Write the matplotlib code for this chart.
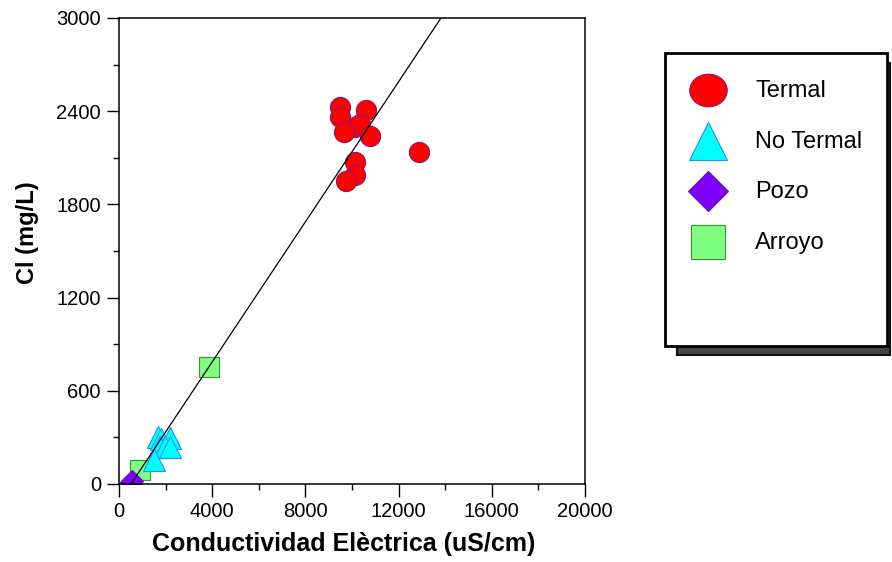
import matplotlib
matplotlib.use("Agg")
from matplotlib import pyplot as plt
from matplotlib.patches import Rectangle
from matplotlib.path import Path
from matplotlib.transforms import Affine2D
import matplotlib.ticker as mticker

plt.rcParams["font.family"] = ["Liberation Sans", "DejaVu Sans"]

# readings: conductivity (uS/cm) and chloride (mg/L)
termal_ec = [9480, 9480, 10600, 10150, 10350, 9650, 10770, 10150, 10150, 9740, 12880]
termal_cl = [2430, 2360, 2410, 2300, 2320, 2265, 2240, 2075, 1990, 1950, 2140]

notermal_ec = [1680, 1800, 2190, 1760, 1975, 2190, 1500]
notermal_cl = [300, 290, 295, 240, 240, 240, 155]

pozo_ec = [520, 560]
pozo_cl = [15, 22]

arroyo_ec = [3860, 890]
arroyo_cl = [750, 92]

# fitted line (two end points)
line_ec = [515, 13820]
line_cl = [0, 3000]

# slightly flattened circle for the legend key
oval = Path.unit_circle().transformed(Affine2D().scale(1.0, 0.87))

series = [
    ("Termal", termal_ec, termal_cl, "o", oval, "#ff0000", "#8b1a6b", 14.5, 27),
    ("No Termal", notermal_ec, notermal_cl, "^", "^", "#00ffff", "#1e90ff", 16, 28),
    ("Pozo", pozo_ec, pozo_cl, "D", "D", "#8000ff", "#5a2090", 11, 20),
    ("Arroyo", arroyo_ec, arroyo_cl, "s", "s", "#80ff80", "#2e9a2e", 15, 25),
]

fig = plt.figure(figsize=(8.92, 5.62), dpi=100)
ax = fig.add_axes([0.1334, 0.1388, 0.5224, 0.8292])

for name, xs, ys, mk, lmk, fc, ec, ms, _ in series[::-1]:
    ax.plot(xs, ys, linestyle="none", marker=mk, markersize=ms,
            markerfacecolor=fc, markeredgecolor=ec, markeredgewidth=0.8)

ax.plot(line_ec, line_cl, color="black", linewidth=0.9, zorder=5)

ax.set_xlim(0, 20000)
ax.set_ylim(0, 3000)
ax.xaxis.set_major_locator(mticker.MultipleLocator(4000))
ax.xaxis.set_minor_locator(mticker.MultipleLocator(2000))
ax.yaxis.set_major_locator(mticker.MultipleLocator(600))
ax.yaxis.set_minor_locator(mticker.MultipleLocator(300))
ax.tick_params(which="major", direction="out", length=9, width=1, labelsize=14.5, pad=4)
ax.tick_params(which="minor", direction="out", length=4.5, width=1)
for sp in ax.spines.values():
    sp.set_linewidth(1.1)

ax.set_xlabel("Conductividad Elèctrica (uS/cm)", fontsize=18, fontweight="bold")
ax.set_ylabel("Cl (mg/L)", fontsize=17, fontweight="bold")
ax.xaxis.set_label_coords(0.483, -0.103)
ax.yaxis.set_label_coords(-0.171, 0.54)

# legend drawn by hand: tall box with a dark drop shadow
lax = fig.add_axes([0, 0, 1, 1], zorder=10)
lax.set_xlim(0, 892)
lax.set_ylim(562, 0)
lax.axis("off")
lax.add_patch(Rectangle((677, 63), 213, 292, facecolor="#444444", edgecolor="#111111", linewidth=1.5))
lax.add_patch(Rectangle((665, 53), 222, 293, facecolor="white", edgecolor="black", linewidth=2))
row_y = 90
for name, xs, ys, mk, lmk, fc, ec, ms, lms in series:
    lax.plot([708], [row_y], linestyle="none", marker=lmk, markersize=lms,
             markerfacecolor=fc, markeredgecolor=ec, markeredgewidth=0.8)
    lax.text(755, row_y + 1, name, fontsize=17, va="center", ha="left")
    row_y += 50.5

fig.savefig("out.png", dpi=100)
